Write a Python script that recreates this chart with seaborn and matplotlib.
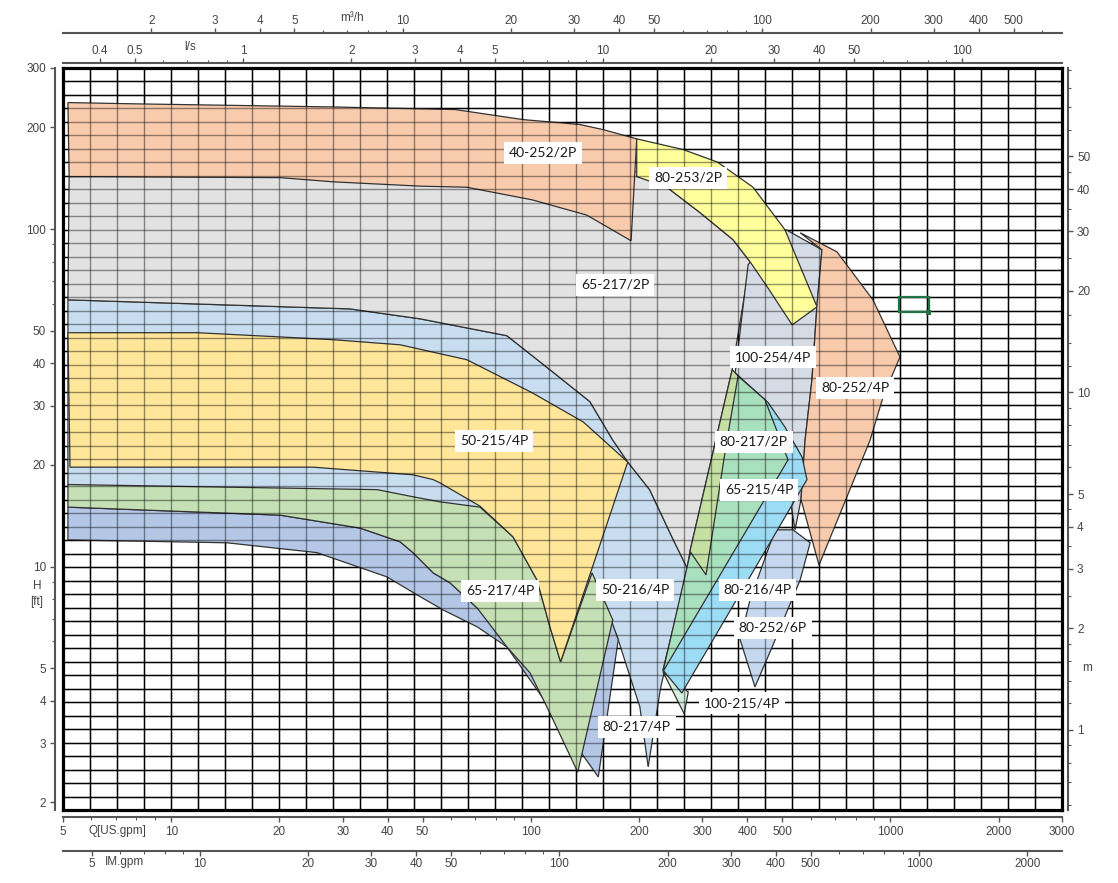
import numpy as np
import matplotlib
matplotlib.use("Agg")
import matplotlib.pyplot as plt
from matplotlib import ticker
from matplotlib.patches import Rectangle
import seaborn as sns

# pump ranges: Q in US gpm, H in ft
q_50_216_4p = [5.16, 31.4, 49.2, 85.8, 113, 146, 169, 186, 214, 249, 272, 229, 212, 201, 185, 174, 166, 151, 121, 113, 104, 89.2, 72.2, 55.9, 37.4, 5.16]
h_50_216_4p = [61.7, 58.0, 54.2, 48.3, 38.3, 30.8, 23.7, 20.4, 16.9, 12.0, 9.91, 4.31, 2.55, 3.84, 5.04, 6.19, 6.95, 7.97, 5.11, 6.58, 9.01, 12.1, 14.8, 15.3, 16.65, 17.2]

q_65_217_2p = [5.20, 197, 239, 295, 365, 407, 363, 277, 272, 249, 214, 186, 169, 146, 113, 85.8, 49.2, 31.4, 5.16]
h_65_217_2p = [143, 148, 133, 112, 93.0, 80.0, 38.3, 11.1, 9.91, 12.0, 16.9, 20.4, 23.7, 30.8, 38.3, 48.3, 54.2, 58.0, 61.7]

q_40_252_2p = [5.16, 7.83, 28.2, 49.2, 61.5, 95.1, 137, 159, 197, 190, 143, 101, 66.4, 49.2, 28.2, 20.1, 5.20]
h_40_252_2p = [237, 235, 230, 227, 226, 211, 204, 197, 185, 92.3, 110, 122, 133, 134, 138, 142, 143]

q_100_254_4p = [402, 462, 513, 645, 625, 605, 579, 564, 543, 526, 370]
h_100_254_4p = [78.4, 94.2, 99.5, 86.8, 59.7, 35.8, 23.7, 15.8, 12.85, 15.8, 37.5]

q_80_253_2p = [197, 265, 330, 415, 509, 625, 533, 454, 407, 365, 295, 239, 197]
h_80_253_2p = [185, 172, 158, 133, 99.5, 58.8, 52.0, 67.5, 80.0, 93.0, 112, 133, 143]

q_80_252_4p = [561, 710, 894, 1063, 954, 878, 633, 564, 579, 605, 625, 645]
h_80_252_4p = [97.5, 85.6, 61.7, 41.8, 31.8, 23.7, 10.1, 15.8, 23.7, 35.8, 59.7, 86.8]

q_80_217_4p = [5.16, 20.1, 33.5, 43.3, 47.0, 53.5, 59.6, 70.9, 146, 168, 175, 154, 85.8, 70.9, 57.0, 48.2, 39.8, 25.4, 14.3, 5.16]
h_80_217_4p = [15.0, 14.2, 13.0, 11.84, 11.0, 9.58, 8.95, 7.54, 7.97, 6.86, 6.07, 2.38, 5.78, 6.63, 7.44, 8.25, 9.32, 11.0, 11.76, 12.0]

q_65_217_4p = [5.16, 37.4, 47.0, 55.9, 72.2, 89.2, 104, 113, 121, 148, 169, 135, 113, 99.5, 85.8, 70.9, 59.6, 53.5, 47.0, 43.3, 33.5, 20.1, 5.16]
h_65_217_4p = [17.5, 16.9, 16.1, 15.55, 15.0, 12.25, 9.13, 6.63, 5.22, 9.58, 6.95, 2.46, 3.68, 4.84, 5.78, 7.54, 8.95, 9.58, 11.0, 11.84, 13.0, 14.2, 15.0]

q_50_215_4p = [5.16, 11.8, 20.1, 28.2, 43.3, 66.4, 101, 140, 186, 121, 113, 104, 89.2, 72.2, 55.9, 53.5, 47.0, 24.8, 5.23]
h_50_215_4p = [49.3, 49.3, 47.9, 47.0, 45.4, 41.0, 32.7, 26.8, 20.4, 5.22, 6.63, 9.13, 12.25, 15.1, 17.7, 18.1, 18.7, 19.7, 19.7]

q_80_252_6p = [478, 536, 598, 561, 469, 420, 382, 407]
h_80_252_6p = [12.85, 12.85, 11.76, 9.13, 5.78, 4.40, 6.07, 7.97]

q_100_215_4p = [233, 274, 267]
h_100_215_4p = [4.88, 4.25, 3.66]

q_80_216_4p = [370, 457, 509, 568, 586, 263, 233]
h_80_216_4p = [37.5, 30.6, 25.9, 21.1, 18.1, 4.22, 4.94]

q_65_215_4p = [365, 448, 519, 233, 272]
h_65_215_4p = [37.8, 31.2, 20.7, 4.88, 9.98]

q_80_217_2p = [363, 377, 351, 307, 277]
h_80_217_2p = [38.3, 36.7, 23.7, 9.45, 11.1]

# label boxes
label_names = ["40-252/2P", "80-253/2P", "65-217/2P", "100-254/4P", "80-252/4P", "50-215/4P", "80-217/2P",
               "65-215/4P", "65-217/4P", "50-216/4P", "80-216/4P", "80-252/6P", "100-215/4P", "80-217/4P"]
label_q = [108, 273.5, 171.4, 470, 797, 79.0, 417, 431, 82.1, 195, 427, 471, 386.5, 197]
label_h = [168.3, 141.9, 68.4, 41.7, 33.85, 23.6, 23.4, 16.9, 8.47, 8.53, 8.53, 6.58, 3.94, 3.35]

# axis ticks
h_ticks = [2, 3, 4, 5, 10, 20, 30, 40, 50, 100, 200, 300]
m_ticks = [1, 2, 3, 4, 5, 10, 20, 30, 40, 50]
m_minor = [0.6, 0.7, 0.8, 0.9, 1.2, 1.4, 1.6, 1.8, 2.5, 3.5, 4.5, 6, 7, 8, 9, 12, 14, 17, 25, 35, 45, 60, 70, 80, 90]
usgpm_ticks = [5, 10, 20, 30, 40, 50, 100, 200, 300, 400, 500, 1000, 2000, 3000]
imgpm_ticks = [5, 10, 20, 30, 40, 50, 100, 200, 300, 400, 500, 1000, 2000]
ls_ticks = [0.4, 0.5, 1, 2, 3, 4, 5, 10, 20, 30, 40, 50, 100]
m3h_ticks = [2, 3, 4, 5, 10, 20, 30, 40, 50, 100, 200, 300, 400, 500]

Q_MIN, Q_MAX = 5, 3000
H_MIN, H_MAX = 1.9, 300

sns.set_theme(style="white")
plt.rcParams['font.family'] = ['Liberation Sans', 'DejaVu Sans']

W, H = 1118, 883
fig = plt.figure(figsize=(W / 100, H / 100), dpi=100)
ax = fig.add_axes([63 / W, 73 / H, 999 / W, 742 / H])
ax.set_xscale('log')
ax.set_yscale('log')
ax.set_xlim(Q_MIN, Q_MAX)
ax.set_ylim(H_MIN, H_MAX)
ax.xaxis.set_major_locator(ticker.NullLocator())
ax.xaxis.set_minor_locator(ticker.NullLocator())
ax.yaxis.set_major_locator(ticker.NullLocator())
ax.yaxis.set_minor_locator(ticker.NullLocator())

# regular chart-paper grid (even spacing on screen)
grid_q = np.geomspace(Q_MIN, Q_MAX, 38)[1:-1]
grid_h = np.geomspace(H_MIN, H_MAX, 56)[1:-1]
for g in grid_q:
    ax.axvline(g, color='black', lw=1.0, zorder=0.5)
    ax.axvline(g, color='black', lw=1.0, alpha=0.42, zorder=10)
for g in grid_h:
    ax.axhline(g, color='black', lw=1.0, zorder=0.5)
    ax.axhline(g, color='black', lw=1.0, alpha=0.42, zorder=10)

pumps = [
    (q_50_216_4p, h_50_216_4p, '#c9ddf1'),
    (q_65_217_2p, h_65_217_2p, '#e2e2e2'),
    (q_40_252_2p, h_40_252_2p, '#f8cbad'),
    (q_100_254_4p, h_100_254_4p, '#d6dce5'),
    (q_80_253_2p, h_80_253_2p, '#ffff9c'),
    (q_80_252_4p, h_80_252_4p, '#f8cbad'),
    (q_80_217_4p, h_80_217_4p, '#b4c7e7'),
    (q_65_217_4p, h_65_217_4p, '#c5e0b4'),
    (q_50_215_4p, h_50_215_4p, '#ffe699'),
    (q_80_252_6p, h_80_252_6p, '#c5d8ef'),
    (q_100_215_4p, h_100_215_4p, '#d5efe0'),
    (q_80_216_4p, h_80_216_4p, '#9ddcf5'),
    (q_65_215_4p, h_65_215_4p, '#a9e0be'),
    (q_80_217_2p, h_80_217_2p, '#c6e0a4'),
]
for i, (q, h, c) in enumerate(pumps):
    ax.fill(q, h, facecolor=c, edgecolor='#333333', lw=0.9, zorder=1 + i * 0.1)

for name, q, h in zip(label_names, label_q, label_h):
    ax.text(q, h, name, ha='center', va='center', fontsize=10, family=['Lato', 'DejaVu Sans'], color='#1a1a1a',
            bbox=dict(boxstyle='square,pad=0.35', fc='white', ec='none'), zorder=20)

for s in ax.spines.values():
    s.set_linewidth(2.3)
    s.set_color('black')
    s.set_zorder(30)


def fmt(v, pos):
    return f"{v:g}"


def style_axis(axis, major, minor=None):
    axis.set_major_locator(ticker.FixedLocator(major))
    axis.set_major_formatter(ticker.FuncFormatter(fmt))
    if minor is None:
        axis.set_minor_locator(ticker.LogLocator(base=10, subs=np.arange(2, 10), numticks=60))
    else:
        axis.set_minor_locator(ticker.FixedLocator(minor))
    axis.set_minor_formatter(ticker.NullFormatter())


tick_kw = dict(colors='#555555', labelcolor='#444444', labelsize=8.5, direction='out')

sec_left = ax.secondary_yaxis(-0.008, functions=(lambda v: v, lambda v: v))
style_axis(sec_left.yaxis, h_ticks)
sec_right = ax.secondary_yaxis(1.006, functions=(lambda v: v * 0.3048, lambda v: v / 0.3048))
style_axis(sec_right.yaxis, m_ticks, m_minor)
sec_bottom = ax.secondary_xaxis(-0.0095, functions=(lambda v: v, lambda v: v))
style_axis(sec_bottom.xaxis, usgpm_ticks)
sec_im = ax.secondary_xaxis(-0.055, functions=(lambda v: v / 1.20095, lambda v: v * 1.20095))
style_axis(sec_im.xaxis, imgpm_ticks)
sec_ls = ax.secondary_xaxis(1.0067, functions=(lambda v: v * 0.0630902, lambda v: v / 0.0630902))
style_axis(sec_ls.xaxis, ls_ticks)
sec_m3h = ax.secondary_xaxis(1.047, functions=(lambda v: v * 0.227125, lambda v: v / 0.227125))
style_axis(sec_m3h.xaxis, m3h_ticks)

for sec, pad in [(sec_left, 3), (sec_right, 3), (sec_bottom, 3), (sec_im, 1.5), (sec_ls, 1.0), (sec_m3h, 1.0)]:
    sec.tick_params(which='major', length=3.5, width=1, pad=pad, **tick_kw)
    sec.tick_params(which='minor', length=2.5, width=0.8, colors='#555555')
    for s in sec.spines.values():
        s.set_linewidth(1.5)
        s.set_color('#555555')

txt_kw = dict(fontsize=8.5, color='#444444')
fig.text(190 / W, 1 - 47 / H, 'l/s', ha='center', va='center', **txt_kw)
fig.text(352 / W, 1 - 18 / H, 'm³/h', ha='center', va='center', **txt_kw)
fig.text(117 / W, 1 - 831 / H, 'Q[US.gpm]', ha='center', va='center', **txt_kw)
fig.text(125 / W, 1 - 862 / H, 'IM.gpm', ha='center', va='center', **txt_kw)
fig.text(37 / W, 1 - 594 / H, 'H\n[ft]', ha='center', va='center', linespacing=1.5, **txt_kw)
fig.text(1087 / W, 1 - 668 / H, 'm', ha='center', va='center', **txt_kw)

# spreadsheet cell cursor left in the screenshot
fig.add_artist(Rectangle((899 / W, 1 - 312 / H), 30 / W, 15 / H, transform=fig.transFigure,
                         fill=False, ec='#217346', lw=1.6))
fig.add_artist(Rectangle((926 / W, 1 - 315 / H), 5 / W, 5 / H, transform=fig.transFigure,
                         fc='#217346', ec='none'))

fig.savefig('out.png', dpi=100)
